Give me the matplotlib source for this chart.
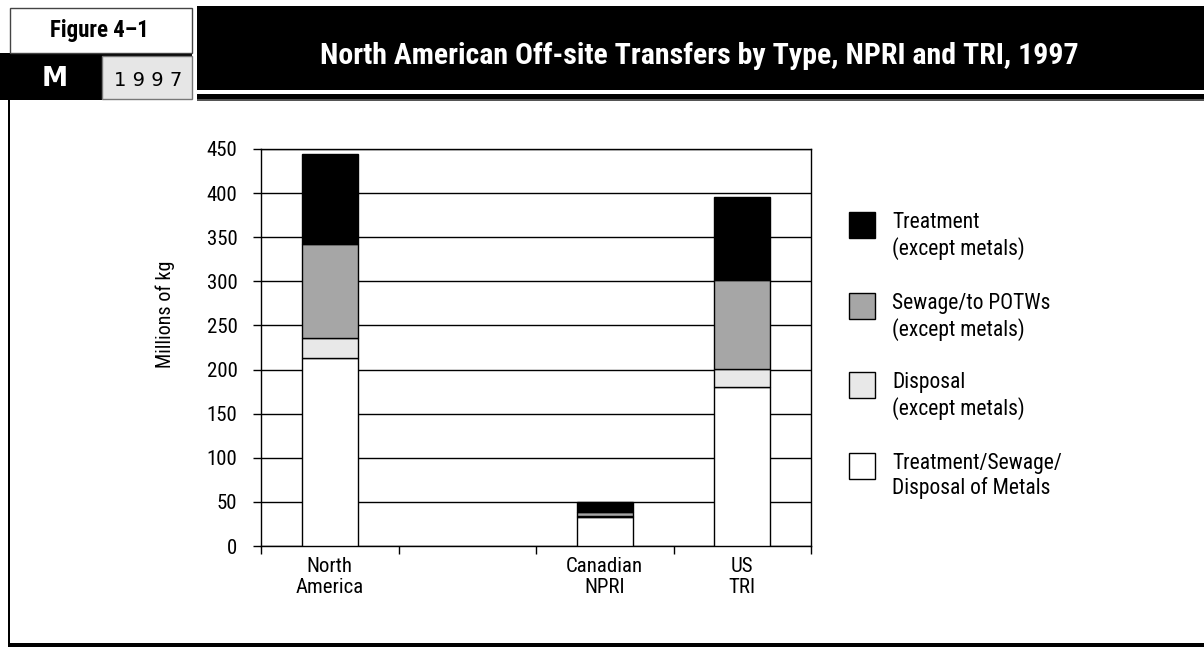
import matplotlib
matplotlib.use("Agg")
import matplotlib.pyplot as plt
from matplotlib.patches import Rectangle
from matplotlib import font_manager
import numpy as np

names = {f.name for f in font_manager.fontManager.ttflist}
FONT = "DejaVu Sans"
for cand in ["Roboto Condensed", "PT Sans Narrow", "Archivo Narrow", "Asap Condensed"]:
    if cand in names:
        FONT = cand
        break
plt.rcParams['font.family'] = [FONT, 'DejaVu Sans']

# ---- data ----
categories = ["North\nAmerica", "", "Canadian\nNPRI", "US\nTRI"]
metals = [213, 0, 33, 180]
disposal = [23, 0, 1.5, 21]
sewage = [106, 0, 4.5, 101]
treatment = [102, 0, 10.5, 94]
series_labels = ["Treatment/Sewage/\nDisposal of Metals",
                 "Disposal\n(except metals)",
                 "Sewage/to POTWs\n(except metals)",
                 "Treatment\n(except metals)"]
series_colors = ["#ffffff", "#e8e8e8", "#a6a6a6", "#000000"]
yticks = [0, 50, 100, 150, 200, 250, 300, 350, 400, 450]

W, H = 1204, 647
fig = plt.figure(figsize=(W / 100, H / 100), dpi=100)
fig.patch.set_facecolor("white")


def prect(x0, y0, x1, y1, fc, ec="none", lw=0, z=0):
    r = Rectangle((x0 / W, 1 - y1 / H), (x1 - x0) / W, (y1 - y0) / H,
                  transform=fig.transFigure, facecolor=fc, edgecolor=ec,
                  linewidth=lw, zorder=z)
    fig.add_artist(r)


# header
prect(197, 6, 1204, 90, "black")
prect(197, 94, 1204, 99, "black")
prect(197, 99, 1204, 101, "#555555")
prect(0, 53, 192, 100, "black")
prect(10, 8, 192, 53, "white", "#444444", 1)
prect(102, 56, 192, 99, "#e6e6e6", "#777777", 1)
# frame
prect(8, 100, 10, 647, "black")
prect(8, 643, 1204, 647, "black")

fig.text(99 / W, 1 - 30 / H, "Figure 4–1", ha="center", va="center",
         fontsize=16.5, fontweight="bold", color="black")
fig.text(55 / W, 1 - 79 / H, "M", ha="center", va="center",
         fontsize=19, fontweight="bold", color="white", family="DejaVu Sans")
fig.text(148 / W, 1 - 80 / H, "1 9 9 7", ha="center", va="center",
         fontsize=14, color="black", family="DejaVu Sans")
fig.text(699 / W, 1 - 56 / H,
         "North American Off-site Transfers by Type, NPRI and TRI, 1997",
         ha="center", va="center", fontsize=21.5, fontweight="bold", color="white")

# axes
ax = fig.add_axes([261 / W, 1 - 546 / H, (811 - 261) / W, (546 - 149) / H])
x = np.arange(len(categories))
bottom = np.zeros(len(categories))
for vals, col in zip([metals, disposal, sewage, treatment], series_colors):
    v = np.array(vals, dtype=float)
    mask = v > 0
    ax.bar(x[mask], v[mask], bottom=bottom[mask], width=0.41, color=col,
           edgecolor="black", linewidth=1, zorder=3)
    bottom += v

ax.set_xlim(-0.5, len(categories) - 0.5)
ax.set_ylim(0, 450)
ax.set_yticks(yticks)
ax.yaxis.grid(True, color="black", linewidth=1, zorder=0)
ax.set_axisbelow(True)
ax.set_xticks(x)
ax.set_xticklabels(categories, fontsize=15, linespacing=1.12)
ax.set_xticks(np.arange(-0.5, len(categories)), minor=True)
ax.tick_params(axis="x", which="major", length=0, pad=8)
ax.tick_params(axis="x", which="minor", length=6, width=1, direction="out")
ax.tick_params(axis="y", length=6, width=1, direction="out", labelsize=15, pad=11)
for s in ax.spines.values():
    s.set_linewidth(1)
    s.set_color("black")
ax.set_ylabel("Millions of kg", fontsize=14.5)
ax.yaxis.set_label_coords((175 - 261) / (811 - 261), (546 - 314) / (546 - 149))

# legend (top to bottom: reversed stack order)
leg_tops = [212, 293, 372, 453]
for top, col, lab in zip(leg_tops, series_colors[::-1], series_labels[::-1]):
    prect(849, top, 875, top + 26, col, "black", 1, z=2)
    fig.text(892 / W, 1 - (top + 0) / H, lab, ha="left", va="top",
             fontsize=15.5, linespacing=1.2)

fig.savefig("out.png", dpi=100)
